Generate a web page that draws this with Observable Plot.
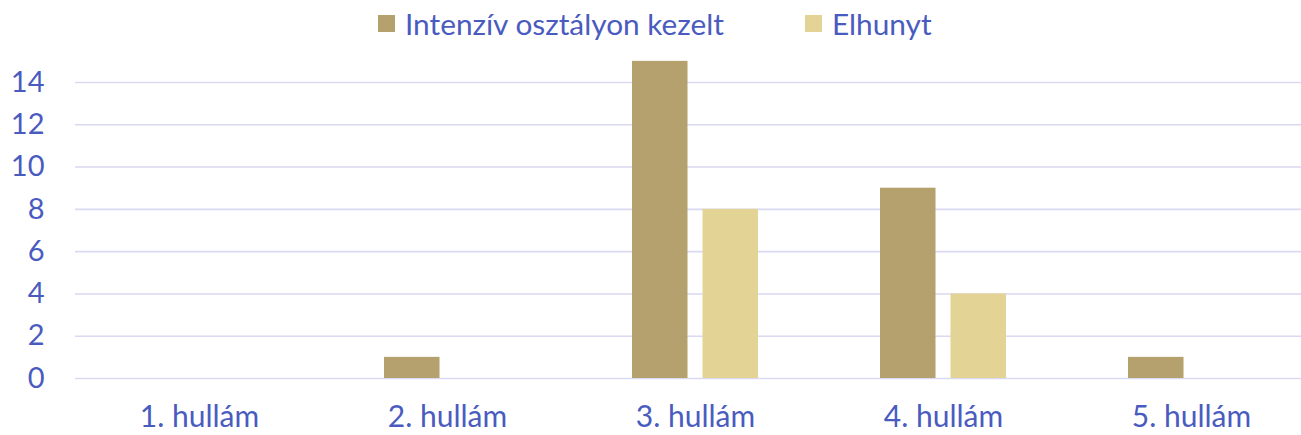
<!DOCTYPE html>
<html>
<head>
<meta charset="utf-8">
<script src="https://cdn.jsdelivr.net/npm/d3@7"></script>
<script src="https://cdn.jsdelivr.net/npm/@observablehq/plot@0.6"></script>
<style>
  html, body { margin: 0; padding: 0; background: #fff; overflow: hidden; }
  body { width: 1301px; height: 435px; font-family: Lato, "Open Sans", sans-serif; color: #4a5bbf; }
  #legend { height: 45px; position: relative; }
  .item { position: absolute; top: 1px; height: 45px; display: flex; align-items: center; font-size: 29.8px; white-space: nowrap; }
  .sw { width: 17px; height: 17px; margin-right: 10px; }
</style>
</head>
<body>
<div id="legend"></div>
<div id="chart"></div>
<script>
const waves = ["1. hullám", "2. hullám", "3. hullám", "4. hullám", "5. hullám"];
const seriesNames = ["Intenzív osztályon kezelt", "Elhunyt"];
const intenziv = [0, 1, 15, 9, 1];
const elhunyt = [0, 0, 8, 4, 0];
const yTicks = [0, 2, 4, 6, 8, 10, 12, 14];
const colors = ["#b4a16d", "#e3d394"];

const rows1 = waves.map((w, i) => ({wave: w, value: intenziv[i]}));
const rows2 = waves.map((w, i) => ({wave: w, value: elhunyt[i]}));

// legend
const legend = document.getElementById("legend");
const lefts = [378, 805];
seriesNames.forEach((name, i) => {
  const it = document.createElement("div");
  it.className = "item";
  it.style.left = lefts[i] + "px";
  const sw = document.createElement("span");
  sw.className = "sw";
  sw.style.background = colors[i];
  const t = document.createElement("span");
  t.textContent = name;
  it.appendChild(sw); it.appendChild(t);
  legend.appendChild(it);
});

const chart = Plot.plot({
  width: 1301,
  height: 390,
  marginLeft: 75,
  marginRight: 0,
  marginTop: 37,
  marginBottom: 57,
  style: {fontFamily: "Lato, 'Open Sans', sans-serif", fontSize: "30px", color: "#4a5bbf", background: "#fff", overflow: "hidden"},
  x: {type: "band", domain: waves, range: [75, 1315], padding: 0, label: null},
  y: {domain: [0, 14], label: null},
  marks: [
    Plot.ruleY(yTicks, {stroke: "#d9d9f1", strokeWidth: 1.6}),
    Plot.barY(rows1, {x: "wave", y: "value", fill: colors[0], insetLeft: 61, insetRight: 131.5}),
    Plot.barY(rows2, {x: "wave", y: "value", fill: colors[1], insetLeft: 131.5, insetRight: 61}),
    Plot.axisY({ticks: yTicks, tickSize: 0, tickPadding: 31, fontSize: 29, label: null}),
    Plot.axisX({tickSize: 0, tickPadding: 27, fontSize: 30, label: null})
  ]
});
document.getElementById("chart").appendChild(chart);
</script>
</body>
</html>
